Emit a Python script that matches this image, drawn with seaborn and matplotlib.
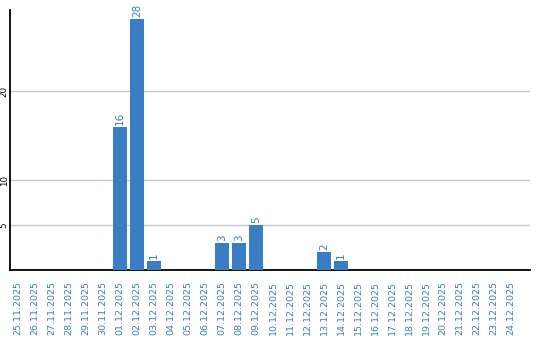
import matplotlib
matplotlib.use("Agg")
import matplotlib.pyplot as plt
import seaborn as sns
import pandas as pd

dates = ["25.11.2025", "26.11.2025", "27.11.2025", "28.11.2025", "29.11.2025", "30.11.2025",
         "01.12.2025", "02.12.2025", "03.12.2025", "04.12.2025", "05.12.2025", "06.12.2025",
         "07.12.2025", "08.12.2025", "09.12.2025", "10.12.2025", "11.12.2025", "12.12.2025",
         "13.12.2025", "14.12.2025", "15.12.2025", "16.12.2025", "17.12.2025", "18.12.2025",
         "19.12.2025", "20.12.2025", "21.12.2025", "22.12.2025", "23.12.2025", "24.12.2025"]
counts = [0, 0, 0, 0, 0, 0,
          16, 28, 1, 0, 0, 0,
          3, 3, 5, 0, 0, 0,
          2, 1, 0, 0, 0, 0,
          0, 0, 0, 0, 0, 0]
yticks = [5, 10, 20]

BLUE = "#3b7dc2"

sns.set_style("white")
plt.rcParams['font.family'] = ['DejaVu Sans']

df = pd.DataFrame({"date": dates, "count": counts})

fig = plt.figure(figsize=(5.4, 3.4), dpi=100)
ax = fig.add_axes([10/540, 70/340, 520/540, 260/340])

sns.barplot(data=df, x="date", y="count", color=BLUE, saturation=1, width=0.82,
            order=dates, ax=ax, zorder=3, linewidth=0, edgecolor="none")

for i, v in enumerate(counts):
    if v > 0:
        ax.text(i, v + 0.25, str(v), rotation=90, ha="center", va="bottom",
                color=BLUE, fontsize=7.5)

ax.set_xlim(-0.47, 30.12)
ax.set_ylim(0, 29.05)
ax.set_yticks(yticks)
ax.set_yticklabels([str(t) for t in yticks], rotation=90, fontsize=6.3, color="black", va="center")
ax.tick_params(axis="y", length=0, pad=1)
ax.tick_params(axis="x", length=0, pad=8)
ax.set_xticks(range(len(dates)))
ax.set_xticklabels(dates, rotation=90, fontsize=6.8, color=BLUE, va="top", ha="center")
ax.grid(axis="y", color="#c8c8c8", linewidth=1, zorder=0)
ax.set_axisbelow(True)
ax.set_xlabel("")
ax.set_ylabel("")
for s in ["top", "right"]:
    ax.spines[s].set_visible(False)
for s in ["left", "bottom"]:
    ax.spines[s].set_color("black")
    ax.spines[s].set_linewidth(1.3)

fig.savefig("out.png", dpi=100, facecolor="white")
